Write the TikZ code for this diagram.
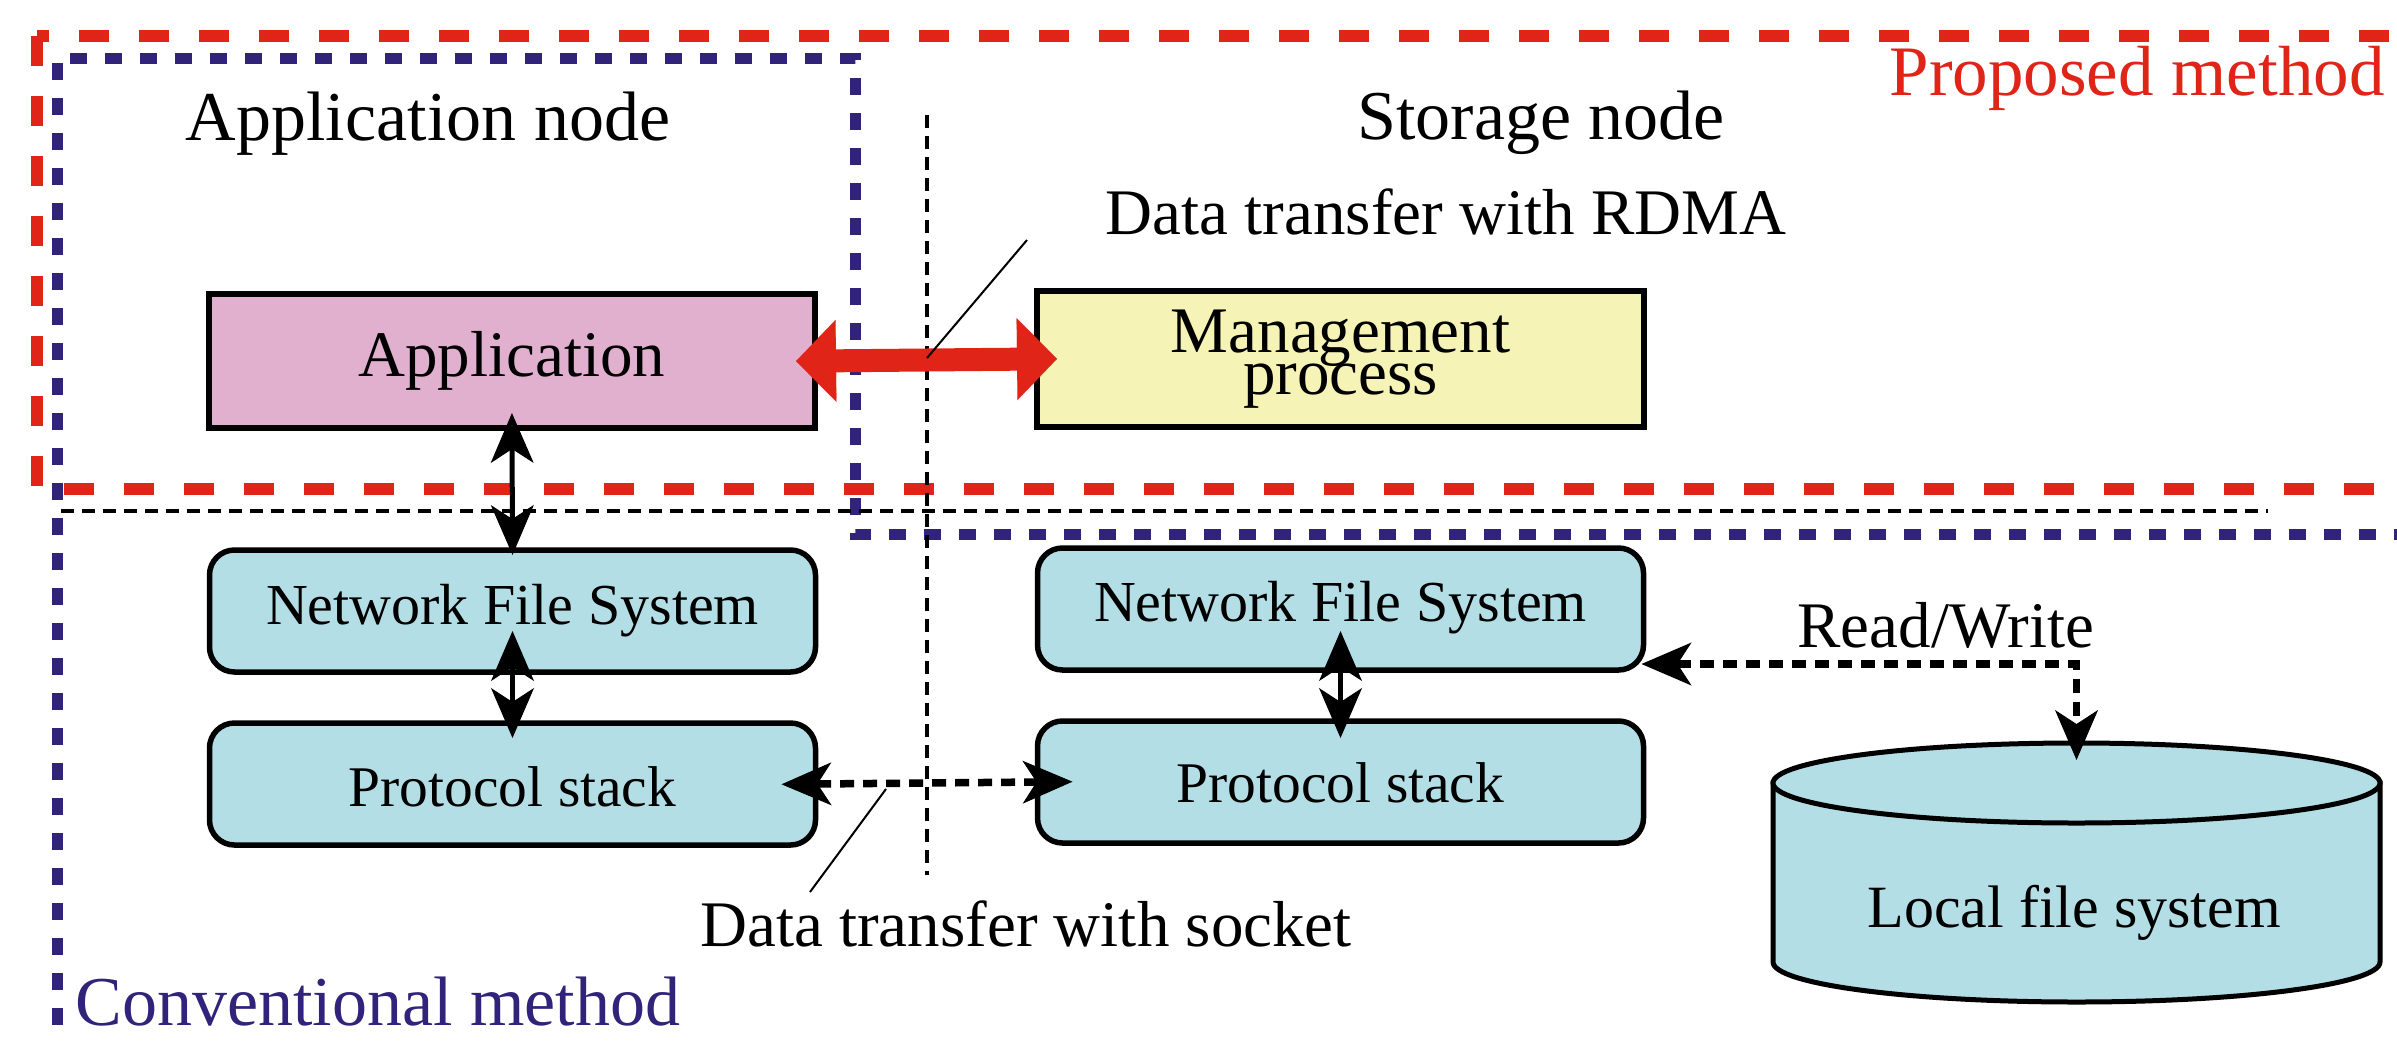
\documentclass[tikz,border=0pt]{standalone}
\usepackage{fontspec}
\setmainfont{Liberation Serif}
\usetikzlibrary{arrows.meta,calc}
\definecolor{pinkf}{RGB}{224,176,206}
\definecolor{yelf}{RGB}{245,243,181}
\definecolor{bluef}{RGB}{179,222,229}
\definecolor{redl}{RGB}{224,36,24}
\definecolor{bluel}{RGB}{50,35,122}
\begin{document}
\begin{tikzpicture}[x=1pt,y=-1pt,
  fs/.style={font=\fontsize{#1}{#1}\selectfont},
  box/.style={draw,line width=5.5pt,minimum width=606pt,minimum height=134pt,inner sep=0pt,outer sep=0pt},
  rbox/.style={box,fill=bluef,rounded corners=25pt,minimum height=122pt},
  redframe/.style={draw=redl,line width=12pt,dash pattern=on 30pt off 30pt},
  blueframe/.style={draw=bluel,line width=11pt,dash pattern=on 17pt off 18pt},
  divline/.style={draw=black,line width=4.5pt,dash pattern=on 13pt off 8pt},
  biarrow/.style={draw=black,line width=5pt,{Stealth[length=50pt,width=43pt,inset=14pt,line width=1pt]}-{Stealth[length=50pt,width=43pt,inset=14pt,line width=1pt]}},
  dasharrow/.style={biarrow,line width=7.5pt,dash pattern=on 14pt off 9pt},
  redarrow/.style={draw=redl,line width=23pt,{Triangle[length=40pt,width=82pt,line width=0.1pt]}-{Triangle[length=40pt,width=82pt,line width=0.1pt]}},
  leader/.style={draw=black,line width=2pt}
]
\useasboundingbox (0,0) rectangle (2397,1042);
\clip (0,0) rectangle (2397,1042);

% frames
\draw[redframe] (37,36) rectangle (2440,489);
\draw[blueframe] (57,1060) -- (57,58) -- (855,58) -- (855,534) -- (2440,534);
\draw[divline] (61,511) -- (2268,511);
\draw[divline] (927,115) -- (927,875);

% boxes
\node[box,fill=pinkf,fs=65,text height=44pt,text depth=14pt] (app) at (512,361) {Application};
\node[box,fill=yelf,minimum width=607pt,minimum height=136pt] (mgmt) at (1340.5,359)
  {\fontsize{65}{42}\selectfont\raisebox{-8pt}{\begin{tabular}{@{}c@{}}Management\\[-3pt]process\end{tabular}}};
\node[rbox,fs=58,text height=38pt,text depth=12pt] (lnfs) at (512.5,611) {Network File System};
\node[rbox,fs=57.5,text height=44pt,text depth=0pt] (lps) at (512.5,784) {Protocol stack};
\node[rbox,fs=58,text height=38pt,text depth=14pt] (rnfs) at (1340.5,609) {Network File System};
\node[rbox,fs=57.5,text height=40pt,text depth=0pt] (rps) at (1340.5,782) {Protocol stack};

% disk
\node[minimum width=607pt,minimum height=259pt,inner sep=0pt,outer sep=0pt] (disk) at (2076.5,872.5) {};
\draw[fill=bluef,line width=5pt] ($(disk.north west)+(0,40)$) -- ($(disk.south west)+(0,-40)$)
  arc[start angle=180,end angle=360,x radius=303.5pt,y radius=40pt]
  -- ($(disk.north east)+(0,40)$) -- cycle;
\draw[fill=bluef,line width=5pt] ($(disk.north)+(0,40)$) ellipse[x radius=303.5pt,y radius=40pt];

% labels
\node[fs=70,anchor=base] (appnode) at (428,140) {Application node};
\node[fs=70,anchor=base] (stnode) at (1541,139) {Storage node};
\node[fs=65,anchor=base] (rdma) at (1446,234) {Data transfer with RDMA};
\node[fs=71,anchor=base,text=redl] (prop) at (2137,95) {Proposed method};
\node[fs=70,anchor=base,text=bluel] (conv) at (378,1025) {Conventional method};
\node[fs=65,anchor=base] (sock) at (1026,946) {Data transfer with socket};
\node[fs=65,anchor=base] (rw) at (1946,647) {Read/Write};
\node[fs=60,anchor=base] (lfs) at (2074,927) {Local file system};

% connectors
\draw[redarrow,shorten <=-19pt,shorten >=-20pt] (app.east) -- (mgmt.west);
\draw[biarrow,shorten <=-15pt,shorten >=-5pt] (app.south) -- (lnfs.north);
\draw[biarrow,shorten <=-41pt,shorten >=-15pt] (lnfs.south) -- (lps.north);
\draw[biarrow,shorten <=-39pt,shorten >=-17pt] (rnfs.south) -- (rps.north);
\draw[dasharrow,shorten <=-34pt,shorten >=-35pt] (lps.east) -- (rps.west);
\draw[dasharrow,shorten <=-2pt,shorten >=-17pt] ([yshift=-55pt]rnfs.east) -| (disk.north);

% leaders
\coordinate (rdmaend) at (1027,240);
\coordinate (rdmastart) at (927,358);
\draw[leader] (rdmastart) -- (rdmaend);
\coordinate (sockstart) at (886,789);
\coordinate (sockend) at (810,892);
\draw[leader] (sockstart) -- (sockend);
\end{tikzpicture}
\end{document}
